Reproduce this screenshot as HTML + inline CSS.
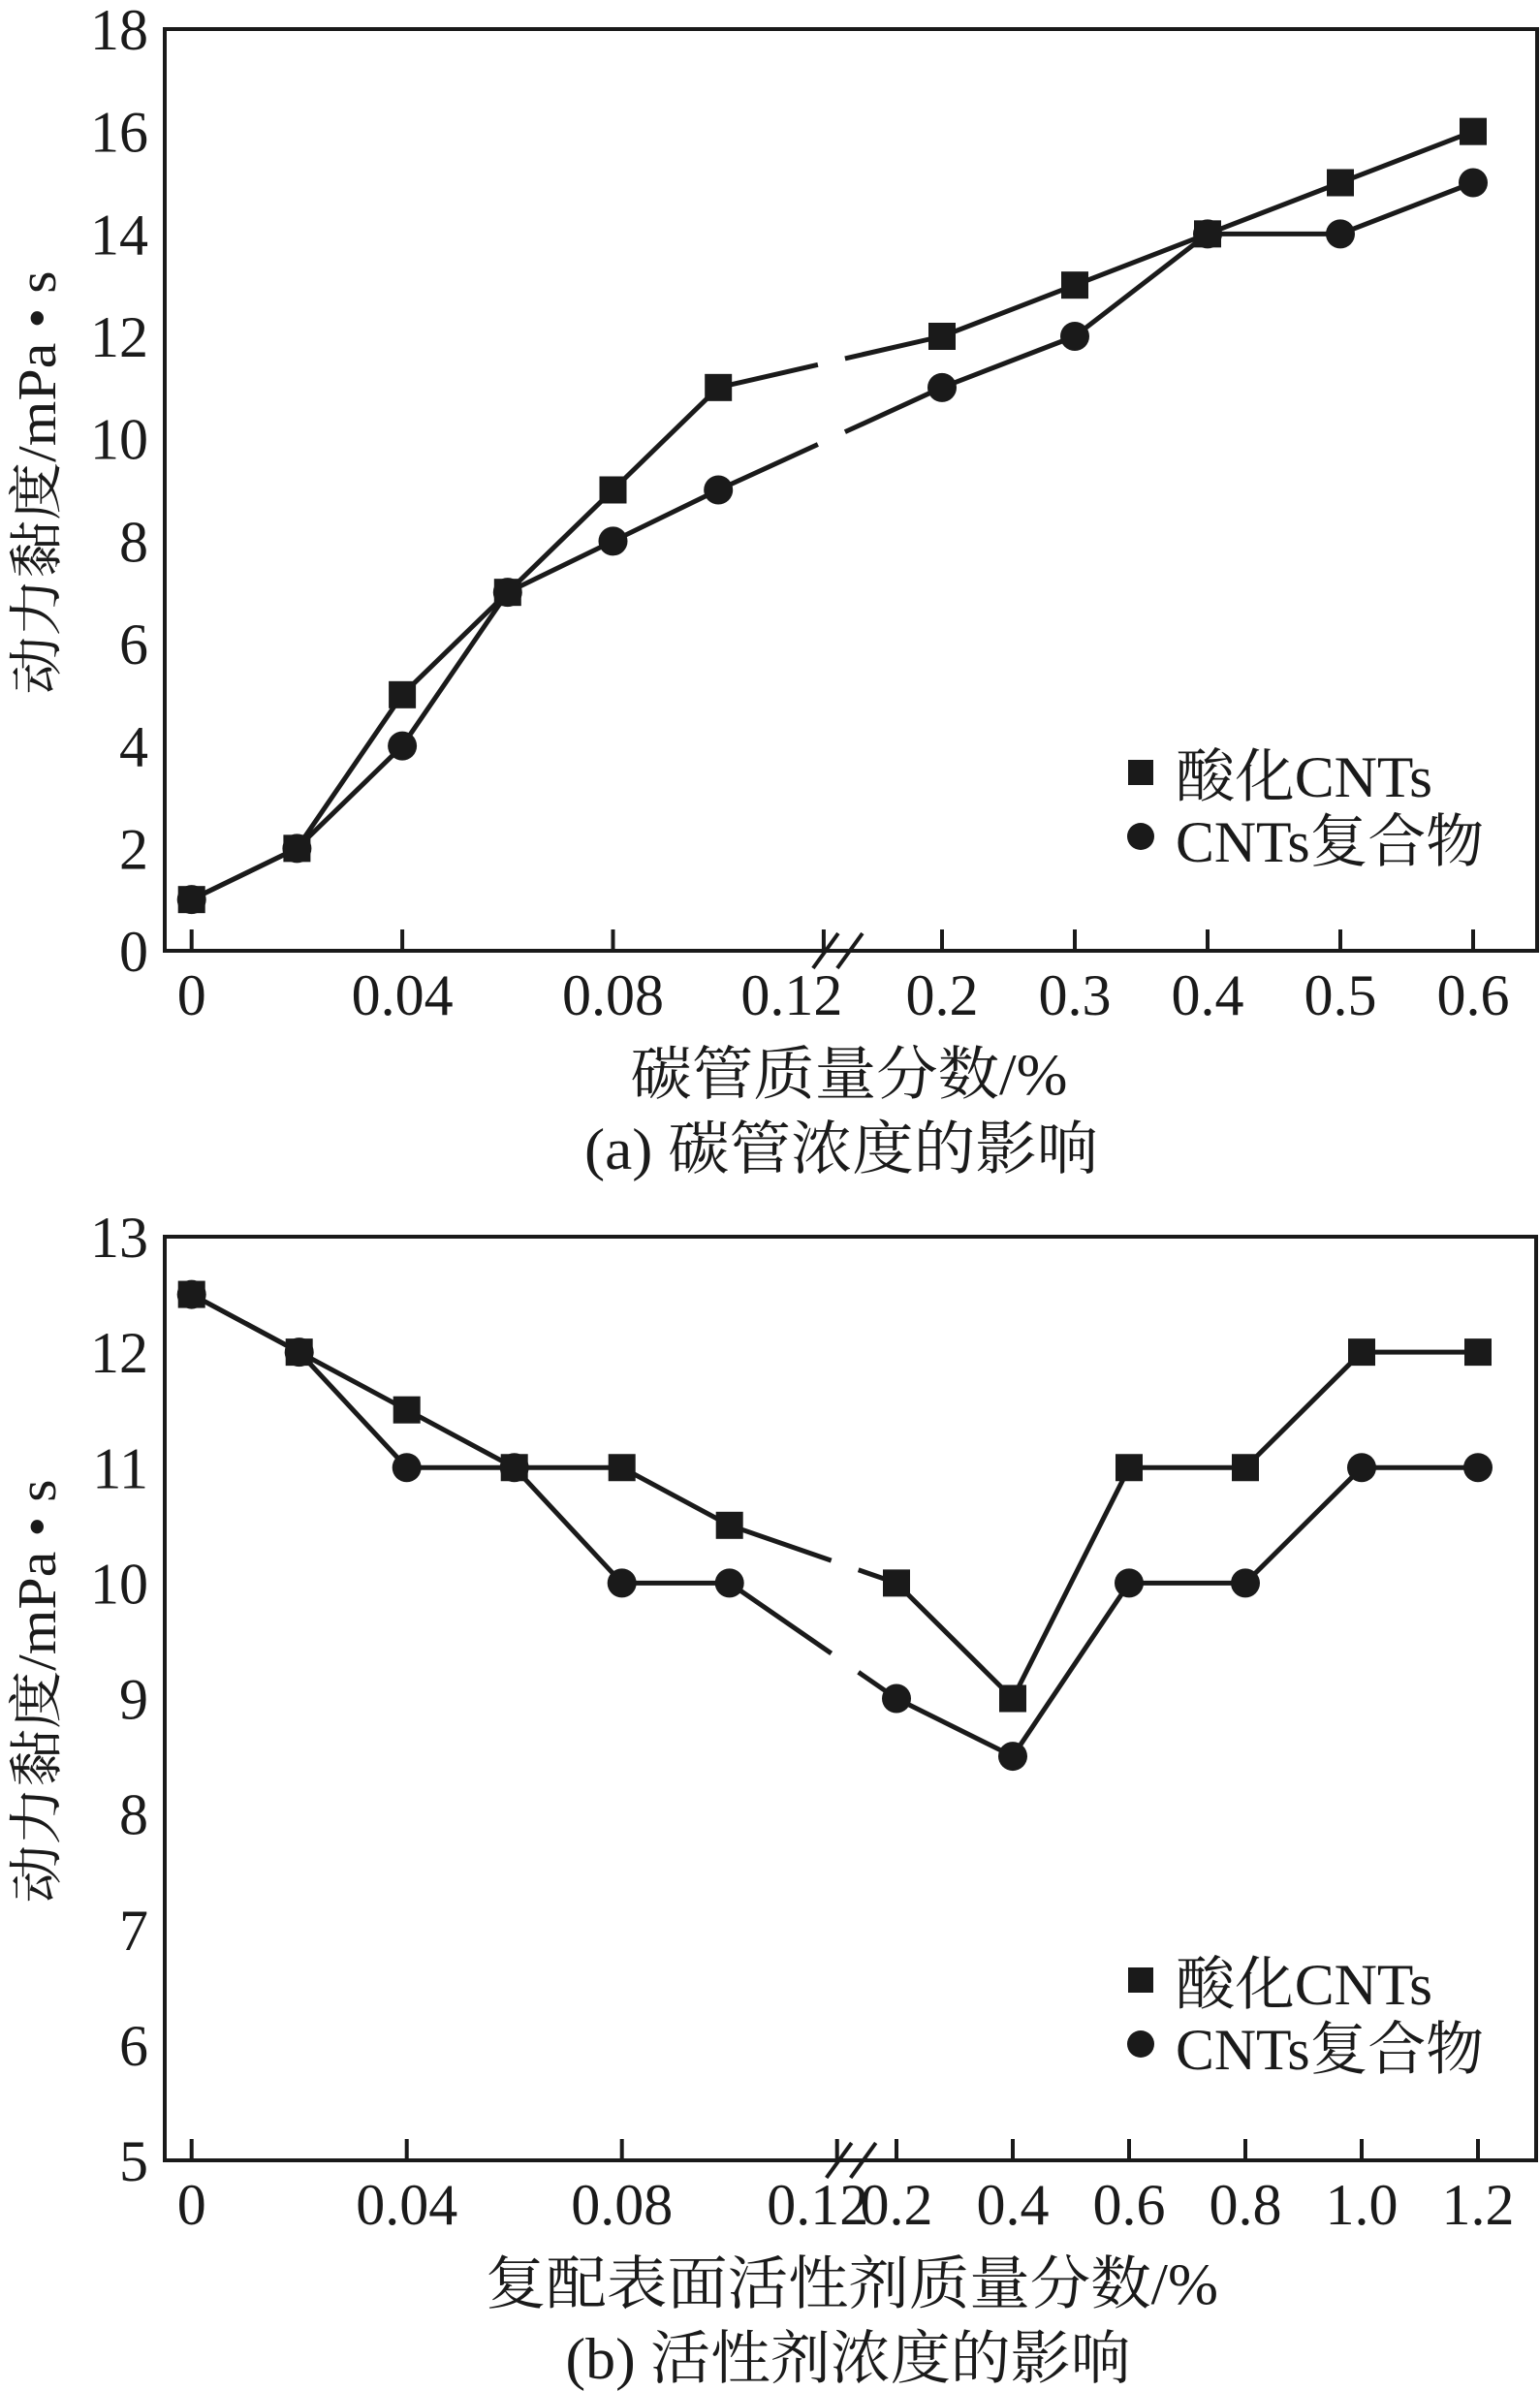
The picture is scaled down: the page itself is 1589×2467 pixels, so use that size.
<!DOCTYPE html>
<html><head><meta charset="utf-8"><style>
html,body{margin:0;padding:0;background:#fff;}
svg{display:block;}
text{fill:#1a1a1a;font-family:"Liberation Serif","Noto Serif CJK SC","Noto Sans CJK SC",serif;}
</style></head><body>
<svg id="chart" width="1589" height="2467" viewBox="0 0 1589 2467" xmlns="http://www.w3.org/2000/svg"></svg>
<script>
// ---- Panel (a) data ----
const aLeftX = [0, 0.02, 0.04, 0.06, 0.08, 0.1];
const aRightX = [0.2, 0.3, 0.4, 0.5, 0.6];
const aSquare = [1, 2, 5, 7, 9, 11, 12, 13, 14, 15, 16];
const aCircle = [1, 2, 4, 7, 8, 9, 11, 12, 14, 14, 15];
const aYTicks = [0, 2, 4, 6, 8, 10, 12, 14, 16, 18];
const aLeftTicks = [0, 0.04, 0.08, 0.12];
const aLeftTickLabels = ["0", "0.04", "0.08", "0.12"];
const aRightTickLabels = ["0.2", "0.3", "0.4", "0.5", "0.6"];
// ---- Panel (b) data ----
const bLeftX = [0, 0.02, 0.04, 0.06, 0.08, 0.1];
const bRightX = [0.2, 0.4, 0.6, 0.8, 1.0, 1.2];
const bSquare = [12.5, 12, 11.5, 11, 11, 10.5, 10, 9, 11, 11, 12, 12];
const bCircle = [12.5, 12, 11, 11, 10, 10, 9, 8.5, 10, 10, 11, 11];
const bYTicks = [5, 6, 7, 8, 9, 10, 11, 12, 13];
const bLeftTicks = [0, 0.04, 0.08, 0.12];
const bLeftTickLabels = ["0", "0.04", "0.08", "0.12"];
const bRightTickLabels = ["0.2", "0.4", "0.6", "0.8", "1.0", "1.2"];

const NS = "http://www.w3.org/2000/svg";
const svg = document.getElementById("chart");
const C = "#1a1a1a";
function mk(tag, attrs, parent) {
  const e = document.createElementNS(NS, tag);
  for (const k in attrs) e.setAttribute(k, attrs[k]);
  (parent || svg).appendChild(e);
  return e;
}

function panel(cfg) {
  const g = mk("g", {});
  
  
  const yS = v => cfg.bottom - (v - cfg.yMin) / (cfg.yMax - cfg.yMin) * (cfg.bottom - cfg.top);
  const xL = v => cfg.x0 + v / 0.02 * cfg.stepL;
  const xR = v => cfg.xR0 + (v - cfg.rightX[0]) / cfg.rStepVal * cfg.stepR;
  const xs = cfg.leftX.map(xL).concat(cfg.rightX.map(xR));
  const breakX = xL(0.12);

  const frame = mk("rect", {x: cfg.left, y: cfg.top, width: cfg.right - cfg.left, height: cfg.bottom - cfg.top, fill: "none", stroke: C, "stroke-width": 4}, g);
  
  

  cfg.yTicks.forEach(v => {
    const t = mk("text", {x: 153, y: yS(v) + 21, "text-anchor": "end", "font-size": 60}, g);
    t.textContent = v;
    
    
  });
  cfg.leftTicks.forEach((v, i) => {
    const x = xL(v);
    const tk = mk("line", {x1: x, x2: x, y1: cfg.bottom, y2: cfg.bottom - 22, stroke: C, "stroke-width": 4}, g);
    
    
    const t = mk("text", {x: (v === 0.12 ? x + cfg.lbl12Off : x), y: cfg.bottom + 66, "text-anchor": "middle", "font-size": 60}, g);
    t.textContent = cfg.leftTickLabels[i];
    
    
  });
  cfg.rightX.forEach((v, i) => {
    const x = xR(v);
    const tk = mk("line", {x1: x, x2: x, y1: cfg.bottom, y2: cfg.bottom - 22, stroke: C, "stroke-width": 4}, g);
    
    
    const t = mk("text", {x: x, y: cfg.bottom + 66, "text-anchor": "middle", "font-size": 60}, g);
    t.textContent = cfg.rightTickLabels[i];
    
    
  });
  [0, 25].forEach(d => {
    const b = mk("line", {x1: breakX - 11 + d, y1: cfg.bottom + 18, x2: breakX + 15 + d, y2: cfg.bottom - 18, stroke: C, "stroke-width": 4}, g);
    
    
  });

  function series(vals, kind) {
    const pts = vals.map((v, i) => [xs[i], yS(v)]);
    const nL = cfg.leftX.length;
    const gapA = breakX + cfg.gap[0], gapB = breakX + cfg.gap[1];
    let d1 = "M" + pts.slice(0, nL).map(p => p.join(",")).join(" L");
    const p1 = pts[nL - 1], p2 = pts[nL];
    const yAt = x => p1[1] + (x - p1[0]) / (p2[0] - p1[0]) * (p2[1] - p1[1]);
    d1 += " L" + gapA + "," + yAt(gapA);
    let d2 = "M" + gapB + "," + yAt(gapB) + " L" + pts.slice(nL).map(p => p.join(",")).join(" L");
    [d1, d2].forEach(d => {
      const l = mk("path", {d: d, fill: "none", stroke: C, "stroke-width": 5, "stroke-linejoin": "round"}, g);
      
      
    });
    pts.forEach(p => {
      let m;
      if (kind === "square") m = mk("rect", {x: p[0] - 14, y: p[1] - 14, width: 28, height: 28, fill: C}, g);
      else m = mk("circle", {cx: p[0], cy: p[1], r: 15, fill: C}, g);
      
      
    });
  }
  series(cfg.square, "square");
  series(cfg.circle, "circle");

  const lg = mk("g", {}, g);
  
  
  const s = mk("rect", {x: 1164, y: cfg.legY - 13, width: 26, height: 26, fill: C}, lg);
  
  
  const t1 = mk("text", {x: 1213, y: cfg.legY + 25, "font-size": 60, textLength: 265, lengthAdjust: "spacingAndGlyphs"}, lg);
  t1.textContent = "酸化CNTs";
  
  
  const c = mk("circle", {cx: 1177, cy: cfg.legY + 66, r: 14, fill: C}, lg);
  
  
  const t2 = mk("text", {x: 1213, y: cfg.legY + 92, "font-size": 60, textLength: 318, lengthAdjust: "spacingAndGlyphs"}, lg);
  t2.textContent = "CNTs复合物";
  
  

  const cy = cfg.yTitleY;
  const yt = mk("text", {x: 0, y: 0, "font-size": 56, "text-anchor": "middle", textLength: 437, lengthAdjust: "spacingAndGlyphs", transform: "translate(57," + cy + ") rotate(-90)"}, g);
  yt.textContent = "动力黏度/mPa • s";
  
  
  const xt = mk("text", {x: cfg.xTitleX, y: cfg.bottom + 148, "font-size": 60, "text-anchor": "middle", textLength: cfg.xTitleLen, lengthAdjust: "spacingAndGlyphs"}, g);
  xt.textContent = cfg.xTitle;
  
  
  const cap = mk("text", {x: cfg.capX, y: cfg.bottom + 225, "font-size": 60, "text-anchor": "middle", textLength: cfg.capLen, lengthAdjust: "spacingAndGlyphs"}, g);
  cap.textContent = cfg.caption;
  
  
}

panel({name: "panel-a-chart", left: 170, right: 1586, top: 30, bottom: 981, yMin: 0, yMax: 18,
  x0: 197.7, stepL: 108.7, xR0: 972, stepR: 137, rStepVal: 0.1,
  leftX: aLeftX, rightX: aRightX, square: aSquare, circle: aCircle, yTicks: aYTicks,
  leftTicks: aLeftTicks, leftTickLabels: aLeftTickLabels, rightTickLabels: aRightTickLabels,
  lbl12Off: -33, gap: [-6, 22], legY: 797, yTitleY: 498,
  xTitle: "碳管质量分数/%", xTitleX: 876, xTitleLen: 451,
  caption: "(a) 碳管浓度的影响", capX: 868, capLen: 530});
panel({name: "panel-b-chart", left: 170, right: 1585, top: 1276, bottom: 2229, yMin: 5, yMax: 13,
  x0: 197.7, stepL: 111, xR0: 925, stepR: 120, rStepVal: 0.2,
  leftX: bLeftX, rightX: bRightX, square: bSquare, circle: bCircle, yTicks: bYTicks,
  leftTicks: bLeftTicks, leftTickLabels: bLeftTickLabels, rightTickLabels: bRightTickLabels,
  lbl12Off: -20, gap: [-6, 22], legY: 2043, yTitleY: 1745,
  xTitle: "复配表面活性剂质量分数/%", xTitleX: 879, xTitleLen: 756,
  caption: "(b) 活性剂浓度的影响", capX: 875, capLen: 583});
</script>
</body></html>
